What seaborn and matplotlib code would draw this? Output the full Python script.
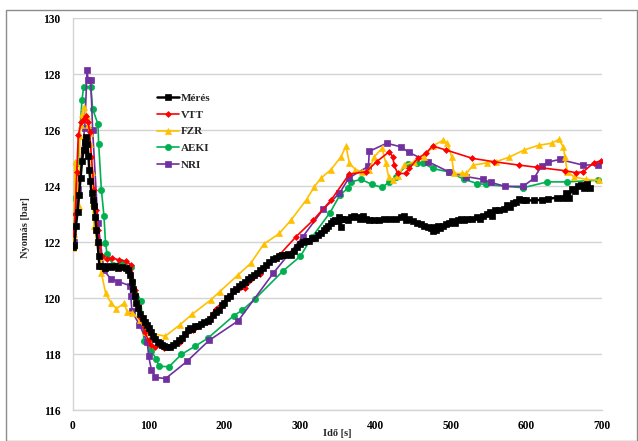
import matplotlib
matplotlib.use("Agg")
import matplotlib.pyplot as plt
import seaborn as sns
import pandas as pd
from matplotlib.patches import Rectangle

# ---------------- data ----------------
meres_t = [0, 2, 4, 6, 8, 10, 12, 14, 16, 17.5, 19, 20.5, 21.5, 23, 24.5, 26, 28, 29.5, 31, 32.5, 34, 35,
           38, 42, 46, 50, 55, 60, 65, 70, 73, 75.5, 77.5, 79.5, 81.5, 84, 86.5, 89, 92, 95, 98, 100.5,
           103, 106, 109, 112, 115, 118, 121, 124, 128, 132, 136, 140, 144, 148, 152, 155, 158, 162, 166,
           170, 174, 178, 181, 185, 189, 193, 197, 200, 204, 208, 212, 216, 220, 224, 228, 232, 236, 240,
           244, 248, 252, 256, 260, 264, 268, 272, 276, 280, 284, 288, 292, 296, 300, 304, 308, 312, 316,
           320, 324, 328, 332, 335, 338, 341, 344, 347, 350, 352, 354, 356, 360, 364, 368, 372, 376, 380,
           384, 388, 392, 398, 405, 412, 420, 428, 434, 438, 440, 444, 450, 455, 460, 465, 470, 474, 476,
           478, 480, 483, 486, 490, 494, 498, 502, 506, 510, 514, 518, 522, 528, 534, 538, 542, 548, 552,
           555, 558, 564, 570, 574, 578, 582, 586, 590, 595, 600, 610, 620, 628, 640, 648, 652, 656, 660,
           664, 668, 672, 676, 680, 684]
meres_p = [121.85, 121.9, 122.6, 123.1, 123.7, 124.3, 124.9, 125.3, 125.6, 125.75, 125.5, 125.1, 124.6,
           124.2, 123.75, 123.5, 123.3, 122.9, 122.45, 122.0, 121.5, 121.15,
           121.15, 121.1, 121.15, 121.12, 121.15, 121.1, 121.13, 121.08, 121.0, 120.85, 120.6, 120.35,
           120.1, 119.85, 119.65, 119.45, 119.3, 119.15, 119.05, 118.95,
           118.8, 118.65, 118.55, 118.45, 118.4, 118.35, 118.3, 118.28, 118.27, 118.33, 118.4, 118.5,
           118.6, 118.72, 118.88, 118.95, 118.9, 119.0, 119.0,
           119.1, 119.15, 119.2, 119.25, 119.4, 119.5, 119.6, 119.75, 119.85, 120.0, 120.1, 120.25, 120.35,
           120.45, 120.5, 120.6, 120.7, 120.75, 120.85,
           120.9, 121.0, 121.1, 121.2, 121.3, 121.4, 121.45, 121.5, 121.55, 121.55, 121.6, 121.55, 121.7,
           121.85, 121.95, 122.0, 122.05, 122.05, 122.15,
           122.15, 122.25, 122.35, 122.45, 122.5, 122.6, 122.7, 122.75, 122.8, 122.75, 122.9, 122.55,
           122.85, 122.85, 122.8, 122.9, 122.95, 122.9, 122.85,
           122.95, 122.85, 122.8, 122.8, 122.8, 122.82, 122.85, 122.85, 122.9, 122.95, 122.8, 122.85,
           122.75, 122.7, 122.65, 122.6, 122.55, 122.5, 122.4,
           122.55, 122.45, 122.6, 122.5, 122.6, 122.65, 122.7, 122.75, 122.7, 122.8, 122.85, 122.8, 122.85,
           122.85, 122.9, 122.85, 122.95, 123.0, 123.1,
           122.95, 123.15, 123.15, 123.2, 123.35, 123.25, 123.4, 123.45, 123.55, 123.5, 123.5, 123.5,
           123.52, 123.55, 123.6, 123.6, 123.75, 123.6, 123.9,
           123.85, 124.0, 124.05, 123.95, 124.1, 123.95]

vtt_t = [0, 1.5, 3, 5, 7, 11, 14, 17, 20, 22, 24.4, 28, 31, 33, 35, 38, 45, 52, 61, 70.6, 77, 81.7, 86,
         90, 95, 100, 102.8, 108, 121, 141, 158.7, 177, 188.6, 206, 228, 246.8, 273, 295, 318, 341.5,
         365.6, 387.7, 401.7, 418.5, 423, 425, 429.6, 440.6, 445, 456, 467, 475.7, 493.4, 528.6, 557,
         590, 614.5, 651, 665, 675, 689, 698]
vtt_p = [122.3, 122.5, 123.0, 124.5, 125.83, 126.3, 126.4, 126.5, 126.3, 125.95, 125.06, 123.87, 123.15,
         122.44, 121.9, 121.5, 121.4, 121.45, 121.37, 121.33, 121.19, 120.3, 119.76,
         119.3, 118.8, 118.5, 118.33, 118.27, 118.24, 118.45, 118.87, 119.16, 119.64, 120.06, 120.39,
         120.86, 121.55, 122.2, 122.8, 123.51,
         124.44, 124.52, 124.88, 125.24, 125.06, 124.76, 124.46, 124.46, 124.64, 125.0, 125.18, 125.44,
         125.3, 125.0, 124.88,
         124.76, 124.68, 124.56, 124.49, 124.52, 124.84, 124.91]

fzr_t = [0, 1.5, 2.5, 8, 9, 10.5, 12, 15, 18, 20, 22, 23, 25, 26, 28, 32, 36.7, 37.6, 43.3, 50.8, 57.4,
         67.5, 72, 78.6, 88.2, 97, 105, 122, 141, 158, 182, 194, 218, 235, 252.5, 273, 288.6, 309,
         319.4, 328, 341.5, 354.7, 361.3, 365.6, 373.6, 383, 392, 398.7, 409, 414, 417.6, 423, 429.6,
         438.3, 451.5, 464.7, 475.7, 490, 495.5, 501, 504, 515, 520.6, 529.5, 548.4, 559.5, 577, 597,
         616.6, 633.4, 643, 648.6, 651, 654, 663, 678.4, 696]
fzr_p = [121.8, 122.3, 124.86, 123.3, 125.8, 126.2, 126.6, 126.85, 126.5, 126.2, 125.9, 125.5, 124.5,
         123.4, 122.6, 122.0, 121.49, 120.9, 120.18, 119.82, 119.64,
         119.82, 119.52, 119.49, 119.23, 118.81, 118.75, 118.65, 119.05, 119.44, 119.94, 120.24, 120.83,
         121.25, 121.94, 122.32, 122.8, 123.53,
         123.99, 124.29, 124.6, 125.06, 125.44, 124.84, 124.6, 124.52, 124.6, 125.06, 125.36, 124.82,
         124.34, 124.22, 124.37,
         124.76, 124.88, 125.04, 125.44, 125.65, 125.54, 125.06, 124.46, 124.46, 124.46, 124.76, 124.84,
         124.88, 125.04, 125.3,
         125.47, 125.54, 125.68, 125.41, 125.06, 124.52, 124.34, 124.25, 124.22]

aeki_t = [1.5, 2.4, 6, 12, 14, 23.5, 26, 33, 34, 37.6, 41, 43, 45, 53, 64, 76.4, 78.6, 89.6, 91.8, 94,
          103.7, 110.3, 113.8, 127, 143.3, 161.8, 178, 212.5, 223.9, 240.5, 277.5, 301, 316, 340, 353,
          363.4, 368, 381, 395.6, 409, 417.6, 427, 442.7, 454.6, 463.4, 475.7, 498, 517.6, 535, 546,
          595.5, 627.6, 654, 695]
aeki_p = [121.84, 123.57, 124.82, 127.1, 127.54, 127.56, 126.77, 126.22, 125.51, 123.87, 122.94, 121.99,
          121.6, 121.19, 121.31, 121.13, 120.62, 119.9, 119.29, 118.47,
          118.13, 117.82, 117.58, 117.56, 118.0, 118.3, 118.57, 119.38, 119.58, 119.97, 120.97, 121.51,
          122.18, 123.06, 123.68,
          123.93, 124.16, 124.25, 124.07, 123.96, 124.14, 124.34, 124.79, 124.84, 124.84, 124.64, 124.51,
          124.25, 124.1, 124.07,
          123.95, 124.16, 124.16, 124.22]

nri_t = [1.5, 6, 15.6, 18.6, 20, 23.5, 26, 33, 41, 50, 60, 76, 76.4, 78, 88, 98.4, 100, 103.7, 109,
         122.6, 150.7, 180, 218.6, 265, 304, 331, 352.5, 365, 391, 392, 415, 434, 444, 470, 498, 520,
         542, 553, 572, 595.5, 610, 620, 629, 644, 675, 695]
nri_p = [122.0, 123.9, 126.1, 128.15, 127.8, 127.8, 126.0, 122.7, 121.0, 120.7, 120.6, 120.45, 120.1,
         119.55, 119.05, 118.45, 117.95, 117.46, 117.18,
         117.14, 117.75, 118.5, 119.2, 120.9, 122.2, 123.18, 123.75, 124.3, 124.72, 125.25, 125.54,
         125.41, 125.22, 124.88, 124.51, 124.35,
         124.25, 124.14, 124.0, 124.0, 124.29, 124.73, 124.87, 124.96, 124.76, 124.77]

series_names = ["Mérés", "VTT", "FZR", "AEKI", "NRI"]
x_ticks = [0, 100, 200, 300, 400, 500, 600, 700]
y_ticks = [116, 118, 120, 122, 124, 126, 128, 130]

# ---------------- style ----------------
sns.set_style("white")
plt.rcParams["font.family"] = ["Liberation Serif", "DejaVu Serif"]
plt.rcParams["font.weight"] = "bold"

fig = plt.figure(figsize=(6.38, 4.41), dpi=100)
ax = fig.add_axes([0.1144, 0.0692, 0.8292, 0.8893])

styles = {
    "Mérés": dict(color="#000000", marker="s", markersize=4.0, linewidth=1.8, zorder=6),
    "VTT": dict(color="#FF0000", marker="D", markersize=3.0, linewidth=1.2, zorder=5),
    "FZR": dict(color="#FFC000", marker="^", markersize=4.0, linewidth=1.2, zorder=4),
    "AEKI": dict(color="#00B050", marker="o", markersize=4.5, linewidth=1.2, zorder=3),
    "NRI": dict(color="#7030A0", marker="s", markersize=4.0, linewidth=1.2, zorder=3.5),
}
data = {
    "Mérés": (meres_t, meres_p),
    "VTT": (vtt_t, vtt_p),
    "FZR": (fzr_t, fzr_p),
    "AEKI": (aeki_t, aeki_p),
    "NRI": (nri_t, nri_p),
}

for name in series_names:
    t, p = data[name]
    df = pd.DataFrame({"t": t, "p": p})
    st = styles[name]
    sns.lineplot(data=df, x="t", y="p", ax=ax, sort=False, estimator=None,
                 color=st["color"], marker=st["marker"], markersize=st["markersize"],
                 markeredgecolor=st["color"], markeredgewidth=0.5,
                 linewidth=st["linewidth"], zorder=st["zorder"], label=name)

ax.set_xlim(0, 700)
ax.set_ylim(116, 130)
ax.set_xticks(x_ticks)
ax.set_yticks(y_ticks)
ax.set_xticklabels([str(v) for v in x_ticks], fontsize=8.3, fontweight="bold")
ax.set_yticklabels([str(v) for v in y_ticks], fontsize=8.3, fontweight="bold")
ax.yaxis.grid(True, color="#d4d4d4", linewidth=1.0)
ax.xaxis.grid(False)
ax.set_axisbelow(True)
for s in ["top", "right"]:
    ax.spines[s].set_visible(False)
for s in ["left", "bottom"]:
    ax.spines[s].set_color("#d4d4d4")
    ax.spines[s].set_linewidth(1.0)
ax.tick_params(axis="both", direction="out", length=4, width=1, color="#d4d4d4",
               labelcolor="#000000")
ax.tick_params(axis="y", pad=5)
ax.tick_params(axis="x", pad=3)
ax.set_xlabel("Idő [s]", fontsize=7.5, fontweight="bold")
ax.set_ylabel("Nyomás [bar]", fontsize=7.5, fontweight="bold")
ax.yaxis.set_label_coords(-0.081, 0.466)
ax.xaxis.set_label_coords(0.5, -0.047)

leg = ax.legend(loc="upper left", bbox_to_anchor=(0.15, 0.82), frameon=False,
                prop={"family": "Liberation Serif", "weight": "bold", "size": 8},
                handlelength=2.0, handletextpad=0.2, labelspacing=0.62, borderaxespad=0)

fig.patches.append(Rectangle((6 / 638, 0.0), 1 - 6 / 638 - 0.001, 1 - 9.5 / 441,
                             transform=fig.transFigure, fill=False,
                             edgecolor="#8c8c8c", linewidth=1.0, zorder=0))

fig.savefig("out.png", dpi=100)
